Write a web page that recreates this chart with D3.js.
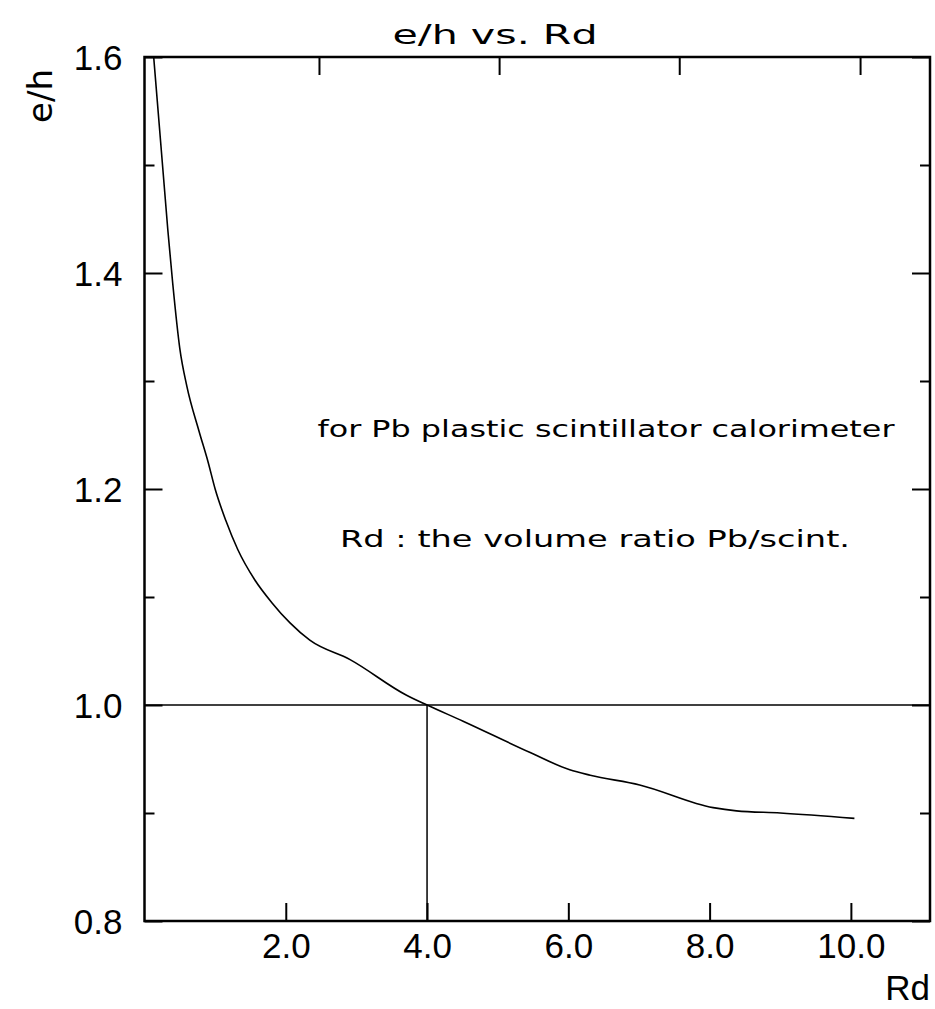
<!DOCTYPE html>
<html><head><meta charset="utf-8">
<script src="https://cdn.jsdelivr.net/npm/d3@7"></script>
<style>body{margin:0;background:#fff}svg{display:block}</style>
</head><body>
<script>
// data
const rd = [0.13,0.33,0.40,0.50,0.60,0.77,0.90,1.00,1.15,1.32,1.56,1.80,2.06,2.34,2.91,3.71,4.00,4.51,5.46,6.02,6.31,7.01,8.05,8.38,9.00,10.05];
const eh = [1.600,1.440,1.390,1.330,1.295,1.254,1.225,1.200,1.171,1.144,1.116,1.095,1.076,1.060,1.042,1.009,1.000,0.985,0.956,0.940,0.935,0.926,0.905,0.902,0.900,0.895];
const xTicks = [2,4,6,8,10];
const xTopTicks = [2.47,5.02,7.57,10.13];
const yMajor = [0.8,1.0,1.2,1.4,1.6];
const yMinor = [0.9,1.1,1.3,1.5];
const refY = 1.0, refX = 4.0;
const title = "e/h vs. Rd";
const xLabel = "Rd", yLabel = "e/h";
const note1 = "for Pb plastic scintillator calorimeter";
const note2 = "Rd : the volume ratio Pb/scint.";

const W = 935, H = 1009;
const m = {l:144.5, r:5, t:57, b:88};
const svg = d3.select("body").append("svg").attr("width",W).attr("height",H);
svg.append("rect").attr("width",W).attr("height",H).attr("fill","#fff");
const x = d3.scaleLinear().domain([0,11.12]).range([m.l, W-m.r]);
const y = d3.scaleLinear().domain([0.8,1.6]).range([H-m.b, m.t]);
const font = "'Liberation Sans', Arial, sans-serif";

// clip
svg.append("clipPath").attr("id","c").append("rect")
  .attr("x",m.l).attr("y",m.t).attr("width",W-m.r-m.l).attr("height",H-m.b-m.t);

// axes
const gB = svg.append("g").attr("transform",`translate(0,${H-m.b})`)
  .call(d3.axisBottom(x).tickValues(xTicks).tickSize(-18).tickPadding(12).tickFormat(d3.format(".1f")));
const gT = svg.append("g").attr("transform",`translate(0,${m.t})`)
  .call(d3.axisTop(x).tickValues(xTopTicks).tickSize(-18).tickFormat(""));
const gL = svg.append("g").attr("transform",`translate(${m.l},0)`)
  .call(d3.axisLeft(y).tickValues(yMajor).tickSize(-18).tickPadding(22).tickFormat(d3.format(".1f")));
const gLm = svg.append("g").attr("transform",`translate(${m.l},0)`)
  .call(d3.axisLeft(y).tickValues(yMinor).tickSize(-10).tickFormat(""));
const gR = svg.append("g").attr("transform",`translate(${W-m.r},0)`)
  .call(d3.axisRight(y).tickValues(yMajor).tickSize(-18).tickFormat(""));
const gRm = svg.append("g").attr("transform",`translate(${W-m.r},0)`)
  .call(d3.axisRight(y).tickValues(yMinor).tickSize(-10).tickFormat(""));
[gB,gT,gL,gLm,gR,gRm].forEach(g=>{
  g.select(".domain").remove();
  g.selectAll(".tick line").attr("stroke","#000").attr("stroke-width",2);
  g.selectAll("text").attr("font-family",font).attr("font-size",35).attr("fill","#000");
});
gL.selectAll("text").attr("dy","0.35em");

// frame
svg.append("rect").attr("x",m.l).attr("y",m.t).attr("width",W-m.r-m.l).attr("height",H-m.b-m.t)
  .attr("fill","none").attr("stroke","#000").attr("stroke-width",2.5);

// reference lines
svg.append("line").attr("x1",m.l).attr("x2",W-m.r).attr("y1",y(refY)).attr("y2",y(refY))
  .attr("stroke","#000").attr("stroke-width",1.5);
svg.append("line").attr("x1",x(refX)).attr("x2",x(refX)).attr("y1",y(refY)).attr("y2",y(0.8))
  .attr("stroke","#000").attr("stroke-width",1.5);

// curve
const pts = rd.map((d,i)=>[d,eh[i]]);
svg.append("path").datum(pts).attr("clip-path","url(#c)")
  .attr("d", d3.line().x(d=>x(d[0])).y(d=>y(d[1])).curve(d3.curveMonotoneX))
  .attr("fill","none").attr("stroke","#000").attr("stroke-width",1.6);

// texts
svg.append("text").attr("x",495).attr("y",44).attr("text-anchor","middle")
  .attr("font-family","'DejaVu Sans', sans-serif").attr("font-size",26)
  .attr("textLength",205).attr("lengthAdjust","spacingAndGlyphs").text(title);
svg.append("text").attr("x",W-m.r).attr("y",1000).attr("text-anchor","end")
  .attr("font-family",font).attr("font-size",35).text(xLabel);
svg.append("text").attr("transform","translate(52,96) rotate(-90)").attr("text-anchor","middle")
  .attr("font-family","'DejaVu Sans', sans-serif").attr("font-size",34).text(yLabel);
svg.append("text").attr("x",606).attr("y",437).attr("text-anchor","middle")
  .attr("font-family","'DejaVu Sans', sans-serif").attr("font-size",23)
  .attr("textLength",577).attr("lengthAdjust","spacingAndGlyphs").text(note1);
svg.append("text").attr("x",595).attr("y",547).attr("text-anchor","middle")
  .attr("font-family","'DejaVu Sans', sans-serif").attr("font-size",23)
  .attr("textLength",510).attr("lengthAdjust","spacingAndGlyphs").text(note2);
</script>
</body></html>
